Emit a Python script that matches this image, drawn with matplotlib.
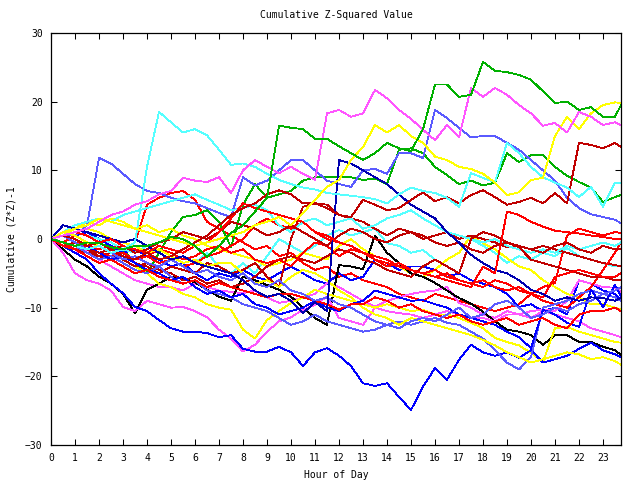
import matplotlib
matplotlib.use('Agg')
import matplotlib.pyplot as plt

plt.rcParams['font.family'] = ['DejaVu Sans Mono']
plt.rcParams['font.size'] = 7

HOURS = [0, 0.5, 1, 1.5, 2, 2.5, 3, 3.5, 4, 4.5, 5, 5.5, 6, 6.5, 7, 7.5,
         8, 8.5, 9, 9.5, 10, 10.5, 11, 11.5, 12, 12.5, 13, 13.5, 14, 14.5,
         15, 15.5, 16, 16.5, 17, 17.5, 18, 18.5, 19, 19.5, 20, 20.5, 21, 21.5,
         22, 22.5, 23, 23.5, 23.75]

G_A = [0,-0.5, -1,-0.5, -0.6,-1.2, -1.5,-1, -1,-0.5, 0.3,0, -1,-2.6, -1,0.9, 2,4, 6,16.5, 16.2,16, 14.6,14.6, 13.5,12.5, 11.5,12.5, 14,13.2, 12.8,16, 22.5,22.5, 20.7,21, 25.8,24.5, 24.3,23.9, 23.2,21.5, 19.8,20, 18.8,19.2, 17.8,17.8, 19.5]
G_B = [0,-1, -1.5,-1, -2,-1.5, -1.6,-3.5, -5,-2, 1,3.2, 3.5,4.2, 2.5,-1.2, 5,8, 6,6.5, 7,8.5, 9,9, 9,9, 8.6,8.8, 8,13, 13.2,12.5, 10.5,9.3, 8,8.5, 7.8,8.2, 12.5,11.2, 12.2,12.2, 10.5,9.2, 8.3,7.5, 5.4,6.1, 6.4]
M1 = [0,0.5, 1,1.5, 2.5,3.5, 4,5, 5.5,6.5, 7,8.9, 8.5,8.3, 9,6.7, 10,11.5, 10.5,9.6, 10.5,9.5, 8.6,18.3, 18.8,17.8, 18.3,21.7, 20.5,18.8, 17.5,15.9, 14.4,16.6, 14.8,22, 20.7,22, 21,19.5, 18.3,16.5, 16.9,15.5, 18.5,17.8, 16.6,17, 16.6]
M2 = [0,-2, -5,-6, -6.5,-7.5, -9.9,-10.5, -9,-9.5, -10,-9.9, -10.5,-11.4, -13.2,-14.5, -16.4,-15.4, -13.5,-12, -11.4,-10.3, -9.6,-8.4, -11.5,-12, -12.5,-10, -10.5,-10.8, -11,-11.5, -11,-10.5, -11,-11.5, -11.5,-12, -11,-11, -11.5,-10.5, -11,-11.5, -12,-13, -13.5,-14, -14.3]
M3 = [0,-1, -2,-1.5, -3,-4, -5,-6, -6.5,-7, -7,-7.5, -6.5,-7, -7.5,-7.7, -7.9,-7.5, -8.5,-9.3, -9,-8.5, -8,-6.4, -7,-8, -9,-9.9, -9,-8.5, -8,-7.7, -7.5,-7, -9.3,-10, -11,-11.5, -10.5,-11, -10.5,-10.3, -10.5,-9, -6,-6.5, -7,-7.1, -7.7]
C1 = [0,-0.5, -1,-1.5, -1,-2, -1.5,-0.5, 10.5,18.5, 17,15.5, 16,15.1, 13,10.8, 11,10.5, 9.5,8.6, 8,7.5, 7.2,6.7, 6.5,6.3, 6.1,5.8, 5.2,6.5, 7.5,7, 6.7,6, 4.7,9.6, 8.9,8.3, 14,12.5, 10.5,9, 8.2,7.5, 6.1,7.6, 4.7,8.2, 8.2]
C2 = [0,0.5, 1,0.5, 0,-0.5, -1.5,-2, -1,-2, -3,-4, -3.5,-2, -4,-5, -3.5,-5, -2.5,0, -1,-2, -1,0.5, 1.3,0.5, 1,1.5, -0.6,-1, -2,-1.6, -3,-4, -5,0, -1,-2, -3.5,-2.5, -3,-2, -2.5,-1.3, -2.5,-3, -3.5,-4, -4]
C3 = [0,1, 2,2.5, 3,2.5, 3.5,4, 4.5,5, 5.5,6, 6.5,5.7, 5,4.2, 4.5,5, 4.2,2, 1,2.5, 3,2, 2.5,3, 1.5,2, 3,3.5, 4.2,3, 2,1, 0.5,0, -0.5,0, -1,-1.5, -2,-1.5, -2,-1, -1.5,-1, -0.5,-1, -0.5]
BL1 = [0,0.5, 0.5,2, 11.8,11, 9.5,8, 7,6.7, 6,5.5, 5.2,4.5, 3.8,3.2, 9,7.8, 8.5,10, 11.5,11.5, 10,8.5, 8,7.6, 10,10.2, 9.5,12.5, 12.5,11.8, 18.8,17.6, 16.2,14.8, 15,15, 14,13, 11.5,10, 8.5,6, 4.5,3.6, 3.2,2.8, 2.3]
MB2 = [0,-0.5, -1,-2, -3,-2.5, -3.5,-4.5, -5,-4, -5.5,-6.5, -6,-7.5, -8,-8.5, -9.5,-10, -10.5,-11.5, -12.5,-12, -11,-12, -12.5,-13, -13.5,-13.2, -12.5,-12, -12.5,-12, -11.5,-12.2, -12.5,-13.5, -14.5,-16.2, -18,-19, -17.2,-10, -9.5,-9, -8,-7.5, -8,-8.5, -9]
MB3 = [0,0.5, -0.5,-1.5, -1,-2, -3,-2.5, -3.5,-4, -3,-4, -5,-4.5, -5.5,-6, -5,-6.5, -7,-6, -7.5,-8, -9,-8.5, -9.5,-10, -11,-12, -12.5,-13, -12,-11.5, -12,-11, -10,-11.5, -11,-9.5, -9,-10, -11.5,-11, -10,-10.5, -9.5,-9, -8,-7.5, -7]
B1 = [0,-1, -2,-3, -5,-6.5, -7.9,-9.9, -10.5,-11.8, -13,-13.5, -13.5,-13.7, -14.3,-14, -16,-16.4, -16.4,-15.7, -16.5,-18.5, -16.5,-15.9, -17,-18.5, -21,-21.4, -21,-23, -24.9,-21.5, -18.8,-20.5, -17.6,-15.4, -16.5,-17, -16.5,-17.3, -16.2,-18, -17.5,-17, -16,-15.1, -16.2,-16.8, -17.2]
N1 = [0,2, 1.5,1, 0.5,0, -0.5,0, -1,-2, -3,-2.5, -3.5,-4, -4.5,-5, -6,-7.5, -8.4,-8, -9,-10.8, -9.2,-10.5, 11.5,11, 10,9, 8,6.5, 5,4, 3,1, -0.5,-2.3, -3.5,-4.5, -5,-6, -7.4,-8, -9,-8.5, -9,-8.5, -8.6,-9, -8.6]
BL2 = [0,1, 0.5,1, 0,-1, -2,-1.5, -2.5,-3, -4,-3.5, -5,-6, -5,-5.5, -4.5,-5.5, -6,-5, -4,-5, -6,-6.5, -5,-6, -5.5,-3, -3.5,-4.5, -4,-4, -4.5,-5.5, -5,-6, -6.5,-7, -8,-9.9, -9.5,-10.5, -10,-11, -6,-6.5, -7.5,-8, -8.9]
BL3 = [0,0.5, 0,-1, -2,-3, -2.5,-3.5, -4.5,-5, -6,-5.5, -7,-8, -7.5,-8.5, -8,-9.5, -10,-11, -10.5,-10, -9,-10, -10.5,-9.5, -9,-7.5, -8,-8.5, -9,-8.9, -9.5,-10, -11,-11.5, -12,-12.5, -13.5,-14.3, -15.9,-10.3, -11,-12.2, -12.8,-7.4, -9.9,-6.7, -8.4]
K1 = [0,-1.5, -3,-4, -5.5,-6.5, -8,-10.8, -7.4,-6.5, -5.5,-5.7, -6.3,-7.4, -8.4,-9, -5.5,-6, -6.7,-7.4, -8.4,-10, -11.5,-12.5, -3.8,-4, -4.4,0.5, -2,-3.5, -5,-5.5, -6.4,-7.5, -8.6,-9.4, -10.6,-12, -13.2,-13.5, -14,-15.4, -14,-14, -15,-15, -15.7,-16.2, -16.9]
Y1 = [0,1, 1.5,2, 3,2.5, 2,1.5, 1,0.5, 0,-0.5, -1,-0.5, 0,0.5, 1,2, 2.5,3.2, 2,3.8, 5.7,7.6, 8.6,11.5, 13.4,16.6, 15.5,16.6, 15,14, 12,11.5, 10.5,10.2, 9.5,8.2, 6.4,6.8, 8.6,8.9, 15,17.8, 16,18.3, 19.5,19.9, 19.8]
Y2 = [0,1, 0.5,-0.5, -1,-2, -3,-4, -5,-6.5, -7,-8, -8.5,-9.5, -10,-10.3, -13.2,-14.5, -11.8,-10.5, -9.3,-8.5, -7.4,-8, -8.5,-9, -9.5,-10, -9.5,-10, -10.5,-10.3, -11,-11, -11.5,-12.2, -13,-14.4, -15,-15.5, -16.6,-17.9, -13,-12.8, -13.5,-14, -14.5,-15, -15.1]
Y3 = [0,0.5, 1,1.5, 1,0, -0.5,-1, -2,-1.5, -2.5,-3.5, -3,-4, -3.5,-3.5, -5,-6.5, -6,-7, -5.5,-4.5, -5,-6, -7.5,-8.5, -10,-11, -11.5,-12.5, -11.5,-12, -12.5,-13, -13.5,-14, -14.7,-15.5, -16.5,-17.2, -18,-17.5, -17,-16.5, -16.8,-17.5, -17.2,-17.8, -18.3]
Y4 = [0,0.5, 1.5,2.5, 2,3, 2.5,1.5, 2,1, 1.5,0.5, 0,-1, -1.5,-2, -2.5,-3, -4,-3.5, -3,-2, -2.5,-3, -1,0, -1.5,-2.5, -3,-4, -5,-5.5, -4.5,-3, -2,0.5, -0.6,-1.5, -2.8,-4, -4.5,-6, -7,-8, -8.5,-9.5, -9.5,-10, -10.3]
R1 = [0,0.5, -0.5,-1, -1.5,-1, -1.5,-0.5, 5,6, 6.7,7, 5.7,2.5, 1.5,0.5, -0.5,-1.5, -1,-2.5, -2,-3.5, -4.5,-4, -5.5,-5, -6,-6.5, -7,-8, -8.5,-9, -8,-8.5, -9,-9.5, -10,-10.5, -10,-9.5, -8,-7, -6.4,0.5, 1.5,1, 0.5,1, 0.9]
R2 = [0,-0.5, 0.5,-0.5, -1,-2, -2,-3, -2.5,-3.5, -3,-4, -3.5,-2.5, -2,-1, 0,2, 3,2, 1.5,2.5, 1,0, -0.5,-1, -2,-3, -3.5,-4, -4.5,-5, -5.5,-5, -6,-6.5, -7,-6, -6.5,-7.5, -8,-9, -9.5,-10, -8.5,-7, -4.5,-2, -0.5]
R3 = [0,0.5, 1,0.5, -0.5,0, -1,-1.5, -2,-1, -1.5,-2, -1,-0.5, 1,3, 5.2,4.5, 4,3.5, 3,2.5, 1,0.5, -0.5,-1, -2,-2.5, -3,-4, -4.5,-5, -5.5,-6, -6.5,-7, -4,-5, 4,3.5, 2.5,1.8, 1.2,1, 0.8,0.5, 0.3,0, 0]
R4 = [0,-0.5, -1.5,-1, -2,-2.5, -2,-3, -2.5,-1.5, -2,-3, -2.5,-1.5, -1,-2, -1.5,-3, -3.5,-3, -4,-2, -0.5,-1, -2.5,-1.5, -2,-3, -4,-3.5, -4.5,-5, -4.5,-5.5, -6,-6.5, -6,-7, -7.5,-7, -8,-8.5, -5.5,-5, -4.5,-5, -5.5,-5.5, -5]
R5 = [0,-1, -1.5,-2.5, -3.5,-3, -4,-5, -4.5,-5.5, -6,-6.5, -6,-7, -6.4,-7, -7.5,-8, -8.5,-8, -8,-8.5, -9,-9.5, -10.3,-9.5, -9.5,-8.5, -9,-10, -9.5,-10.5, -11,-11.5, -11,-12, -12.5,-12, -11.5,-12.5, -12,-11.5, -12.5,-13, -11,-10.5, -10.5,-10, -10.5]
DR1 = [0,-0.5, -1,-1.5, -2,-1.5, -2.5,-3, -2,-3, -2.5,-1.5, -0.5,0.5, 2,3.5, 4.5,5.2, 6.5,7.1, 6.5,5.2, 5.2,4.5, 3.5,3.2, 5.7,5, 4.2,4.5, 5.7,6.8, 5.5,6.1, 5.2,6.4, 7.1,6.1, 5,5.4, 6,5.2, 6.7,5.2, 14,13.7, 13.2,14, 13.4]
DR2 = [0,-0.5, -1.5,-2, -2.5,-3, -2,-3.5, -4,-5, -4,-4.5, -5,-3.5, -4,-5, -4.5,-3.5, -5.5,-7, 0,4.7, 5.2,5, 3.5,3, 2.5,1.5, 0.5,1.5, 1,0, 0.5,1, 0,0.5, 0,-0.5, -1.2,-1, -1.5,-1, -1.5,-2, -2.5,-3, -3.5,-3.8, -4]
DR3 = [0,-1, -0.5,-1.5, -2.5,-2, -3,-4, -3.5,-4.5, -5,-6, -5.5,-6.5, -6,-7, -6.5,-5.5, -4,-3, -2.5,-3, -3.5,-2.5, -1.5,-2, -3,-3.5, -4.5,-5, -5.5,-4, -3,-4, -5,0, 1,0.5, -0.5,-1.2, -3,-3.5, -4,-4.5, -5,-5.5, -5.5,-6, -6]
DR4 = [0,0.5, 0,-1, -0.5,-1.5, -1,-2, -1.5,-0.5, 0,1, 0.5,0, 1,2.5, 2,1.5, 0.5,1, 2,1, 0,-1, 0.5,1.5, 1,0, -0.5,0.5, 1,0.5, -0.5,-1, -0.5,-1.5, -2,-1, -0.5,-1, -1.5,-2, -1,-0.5, -1.5,-2, -1,-1.5, -1.5]

RED = '#ff0000'
DRED = '#c00000'
GREEN = '#00b000'
BLUE = '#0000ff'
MBLUE = '#5a5aff'
NAVY = '#0000b0'
MAG = '#ff55ff'
CYAN = '#55ffff'
YEL = '#ffff00'
BLACK = '#000000'

SERIES = [
    (R1, RED), (G_B, GREEN), (BL2, BLUE), (M3, MAG), (C2, CYAN), (Y4, YEL),
    (K1, BLACK), (DR2, DRED), (BL1, MBLUE), (R2, RED), (C3, CYAN), (M2, MAG),
    (Y2, YEL), (B1, BLUE), (DR3, DRED), (R4, RED), (MB2, MBLUE), (Y3, YEL),
    (BL3, BLUE), (R5, RED), (MB3, MBLUE), (DR4, DRED), (N1, NAVY), (R3, RED),
    (DR1, DRED), (C1, CYAN), (Y1, YEL), (M1, MAG), (G_A, GREEN),
]

fig = plt.figure(figsize=(6.4, 4.8), dpi=100)
ax = fig.add_axes([51 / 640, 35 / 480, 570 / 640, 412 / 480])
for vals, col in SERIES:
    ax.plot(HOURS, vals, color=col, lw=0.6, antialiased=False)

ax.set_xlim(0, 23.75)
ax.set_ylim(-30, 30)
ax.set_xticks(list(range(24)))
ax.set_xticklabels([str(i) for i in range(24)])
ax.set_yticks([-30, -20, -10, 0, 10, 20, 30])
ax.tick_params(direction='in', length=4, width=0.75, top=True, right=True,
               labelsize=7, pad=6, colors='black')
for sp in ax.spines.values():
    sp.set_linewidth(0.9)
ax.set_title('Cumulative Z-Squared Value', fontsize=7, pad=11)
ax.set_xlabel('Hour of Day', fontsize=7, labelpad=5)
ax.set_ylabel('Cumulative (Z*Z)-1', fontsize=7, labelpad=6)

fig.savefig('out.png', dpi=100)
